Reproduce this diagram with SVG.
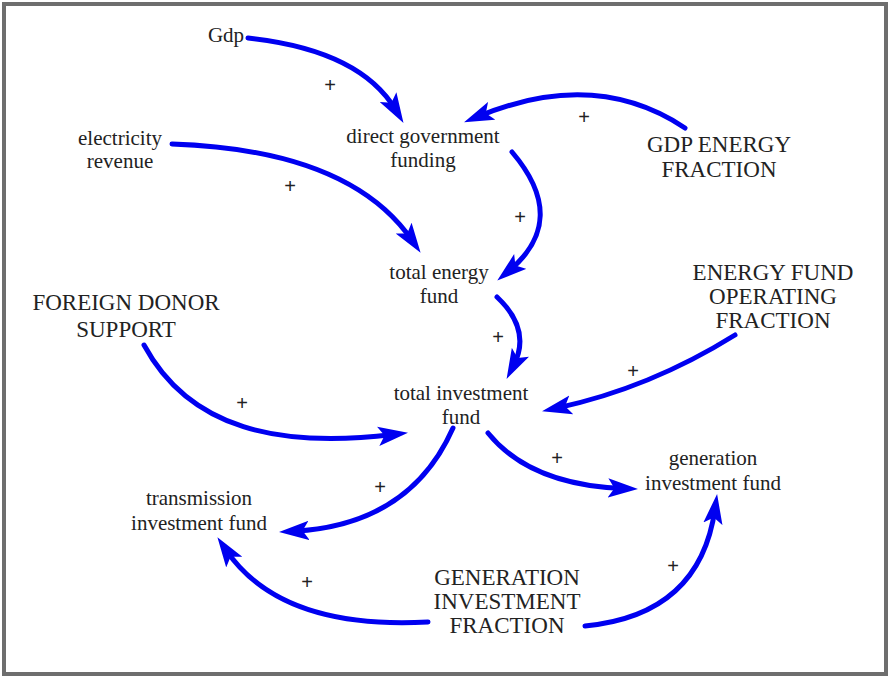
<svg xmlns="http://www.w3.org/2000/svg" width="890" height="678" viewBox="0 0 890 678">
  <style>
    .lbl { font-family: "Liberation Serif", "Times New Roman", serif; fill: #222; text-anchor: middle; }
    .lc { font-size: 21px; }
    .uc { font-size: 23px; }
    .sign { font-family: "Liberation Sans", Arial, sans-serif; font-size: 20px; fill: #222; text-anchor: middle; }
    .link { fill: none; stroke: #0000f0; stroke-width: 5; stroke-linecap: round; marker-end: url(#head); }
  </style>
  <defs>
    <marker id="head" markerUnits="userSpaceOnUse" markerWidth="30" markerHeight="20" refX="14" refY="9" orient="auto" viewBox="0 0 28 18">
      <path d="M0,0 L28,9 L0,18 L6,9 z" fill="#0000f0"/>
    </marker>
  </defs>

  <rect x="0" y="0" width="890" height="678" fill="#fff"/>
  <rect x="4" y="4" width="882" height="670" fill="#fff" stroke="#6e6e6e" stroke-width="4"/>

  <g id="connectors">
    <path class="link" d="M248,38 Q360,50 395.8,110"/>
    <path class="link" d="M685,128 Q595,68 477.9,116.6"/>
    <path class="link" d="M172,144 Q350,150 412.1,240.5"/>
    <path class="link" d="M512,152 Q570,220 508.8,271"/>
    <path class="link" d="M497,297 Q532,330 513.5,365.6"/>
    <path class="link" d="M144,345 C190,430 280,448 393.1,434.6"/>
    <path class="link" d="M735,335 Q650,388 556.7,408.1"/>
    <path class="link" d="M453,428 Q410,525 294,531.2"/>
    <path class="link" d="M488,433 Q530,485 623,488.5"/>
    <path class="link" d="M428,622 Q280,630 225.8,549.6"/>
    <path class="link" d="M585,626 Q700,615 715,508.9"/>
  </g>

  <g id="polarity">
    <text class="sign" x="330" y="92">+</text>
    <text class="sign" x="584" y="124">+</text>
    <text class="sign" x="290" y="193">+</text>
    <text class="sign" x="520" y="224">+</text>
    <text class="sign" x="498" y="344">+</text>
    <text class="sign" x="242" y="410">+</text>
    <text class="sign" x="633" y="378">+</text>
    <text class="sign" x="380" y="494">+</text>
    <text class="sign" x="557" y="465">+</text>
    <text class="sign" x="307" y="589">+</text>
    <text class="sign" x="673" y="573">+</text>
  </g>

  <g id="gdp"><text class="lbl lc" x="226" y="42">Gdp</text></g>
  <g id="electricity-revenue">
    <text class="lbl lc" x="120" y="145">electricity</text>
    <text class="lbl lc" x="120" y="168">revenue</text>
  </g>
  <g id="direct-government-funding">
    <text class="lbl lc" x="423" y="143">direct government</text>
    <text class="lbl lc" x="423" y="167">funding</text>
  </g>
  <g id="gdp-energy-fraction">
    <text class="lbl uc" x="719" y="152">GDP ENERGY</text>
    <text class="lbl uc" x="719" y="177">FRACTION</text>
  </g>
  <g id="total-energy-fund">
    <text class="lbl lc" x="439" y="279">total energy</text>
    <text class="lbl lc" x="439" y="303">fund</text>
  </g>
  <g id="foreign-donor-support">
    <text class="lbl uc" x="126" y="310">FOREIGN DONOR</text>
    <text class="lbl uc" x="126" y="337">SUPPORT</text>
  </g>
  <g id="energy-fund-operating-fraction">
    <text class="lbl uc" x="773" y="280">ENERGY FUND</text>
    <text class="lbl uc" x="773" y="304">OPERATING</text>
    <text class="lbl uc" x="773" y="328">FRACTION</text>
  </g>
  <g id="total-investment-fund">
    <text class="lbl lc" x="461" y="400">total investment</text>
    <text class="lbl lc" x="461" y="424">fund</text>
  </g>
  <g id="generation-investment-fund">
    <text class="lbl lc" x="713" y="465">generation</text>
    <text class="lbl lc" x="713" y="490">investment fund</text>
  </g>
  <g id="transmission-investment-fund">
    <text class="lbl lc" x="199" y="505">transmission</text>
    <text class="lbl lc" x="199" y="530">investment fund</text>
  </g>
  <g id="generation-investment-fraction">
    <text class="lbl uc" x="507" y="585">GENERATION</text>
    <text class="lbl uc" x="507" y="609">INVESTMENT</text>
    <text class="lbl uc" x="507" y="633">FRACTION</text>
  </g>
</svg>
